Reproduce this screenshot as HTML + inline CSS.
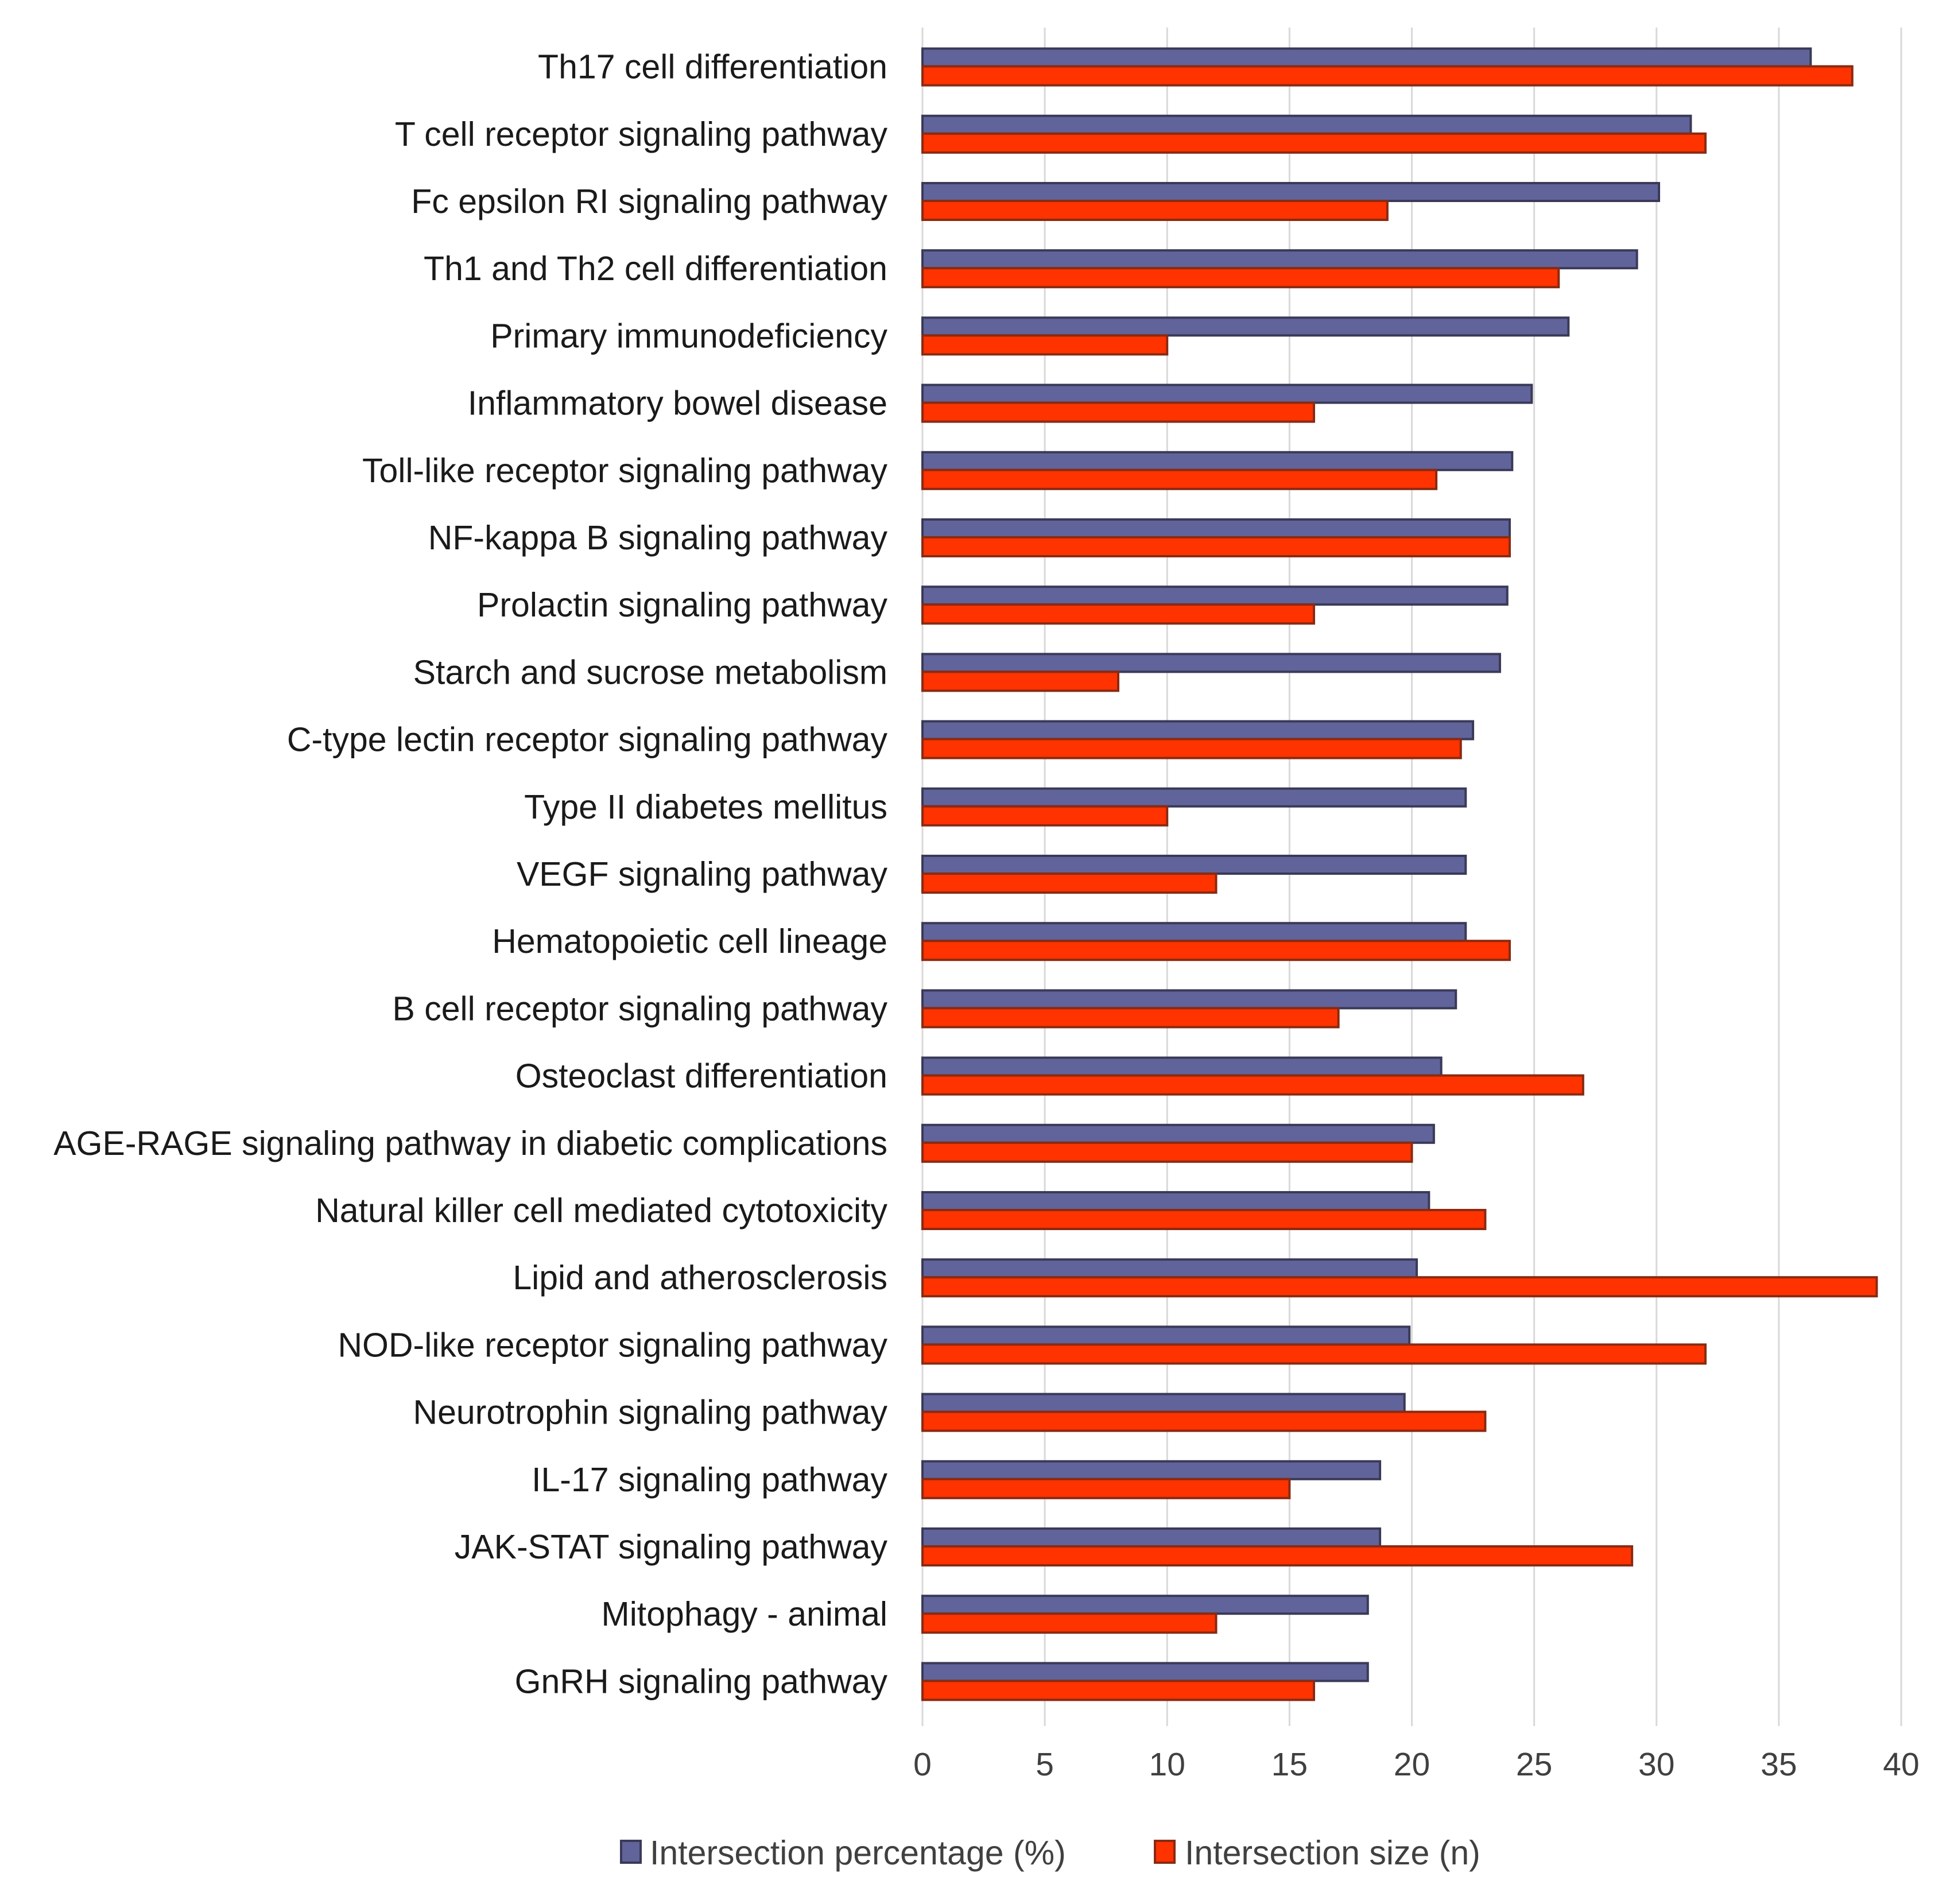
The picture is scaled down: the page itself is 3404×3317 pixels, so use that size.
<!DOCTYPE html>
<html><head><meta charset="utf-8"><style>
html,body{margin:0;padding:0;background:#fff;}
svg{display:block;}
text{font-family:"Liberation Sans",sans-serif;}
</style></head><body>
<svg id="chart" width="3404" height="3317" viewBox="0 0 3404 3317" xmlns="http://www.w3.org/2000/svg"></svg>
<script>
const categories = ["Th17 cell differentiation","T cell receptor signaling pathway","Fc epsilon RI signaling pathway","Th1 and Th2 cell differentiation","Primary immunodeficiency","Inflammatory bowel disease","Toll-like receptor signaling pathway","NF-kappa B signaling pathway","Prolactin signaling pathway","Starch and sucrose metabolism","C-type lectin receptor signaling pathway","Type II diabetes mellitus","VEGF signaling pathway","Hematopoietic cell lineage","B cell receptor signaling pathway","Osteoclast differentiation","AGE-RAGE signaling pathway in diabetic complications","Natural killer cell mediated cytotoxicity","Lipid and atherosclerosis","NOD-like receptor signaling pathway","Neurotrophin signaling pathway","IL-17 signaling pathway","JAK-STAT signaling pathway","Mitophagy - animal","GnRH signaling pathway"];
const percentValues = [36.3,31.4,30.1,29.2,26.4,24.9,24.1,24,23.9,23.6,22.5,22.2,22.2,22.2,21.8,21.2,20.9,20.7,20.2,19.9,19.7,18.7,18.7,18.2,18.2];
const sizeValues = [38,32,19,26,10,16,21,24,16,8,22,10,12,24,17,27,20,23,39,32,23,15,29,12,16];
const tickLabels = [0,5,10,15,20,25,30,35,40];

const svg = document.getElementById('chart');
const NS = 'http://www.w3.org/2000/svg';
const X0 = 1607, X1 = 3312, XMAX = 40;
const Y0 = 57, BAND = 117.2;
const xs = v => X0 + (X1 - X0) * v / XMAX;
const yc = i => Y0 + BAND * (i + 0.5);
function mk(tag, attrs){const e=document.createElementNS(NS,tag);for(const k in attrs)e.setAttribute(k,attrs[k]);svg.appendChild(e);return e;}

tickLabels.forEach(t=>{
  const g = mk('line',{x1:xs(t),x2:xs(t),y1:48,y2:3007,stroke:'#d9d9d9','stroke-width':3});
  
  
  const tx = mk('text',{x:xs(t),y:3093,'font-size':57,fill:'#404040','text-anchor':'middle'});
  tx.textContent = t;
  
  
});

categories.forEach((c,i)=>{
  const y = yc(i);
  const lb = mk('text',{x:1546,y:y+21,'font-size':59,fill:'#1a1a1a','text-anchor':'end'});
  lb.textContent = c;
  
  
  const b1 = mk('rect',{x:X0,y:y-31,width:xs(percentValues[i])-X0,height:31,fill:'#60649a',stroke:'#3a3a58','stroke-width':4});
  
  
  const b2 = mk('rect',{x:X0,y:y,width:xs(sizeValues[i])-X0,height:33,fill:'#ff3300',stroke:'#8a2a12','stroke-width':4});
  
  
});

const l1 = mk('rect',{x:1082,y:3207,width:34,height:38,fill:'#60649a',stroke:'#3a3a58','stroke-width':4});


const t1 = mk('text',{x:1132,y:3248,'font-size':59,fill:'#404040'});
t1.textContent = 'Intersection percentage (%)';


const l2 = mk('rect',{x:2012,y:3207,width:34,height:38,fill:'#ff3300',stroke:'#8a2a12','stroke-width':4});


const t2 = mk('text',{x:2064,y:3248,'font-size':59,fill:'#404040'});
t2.textContent = 'Intersection size (n)';


</script>
</body></html>
